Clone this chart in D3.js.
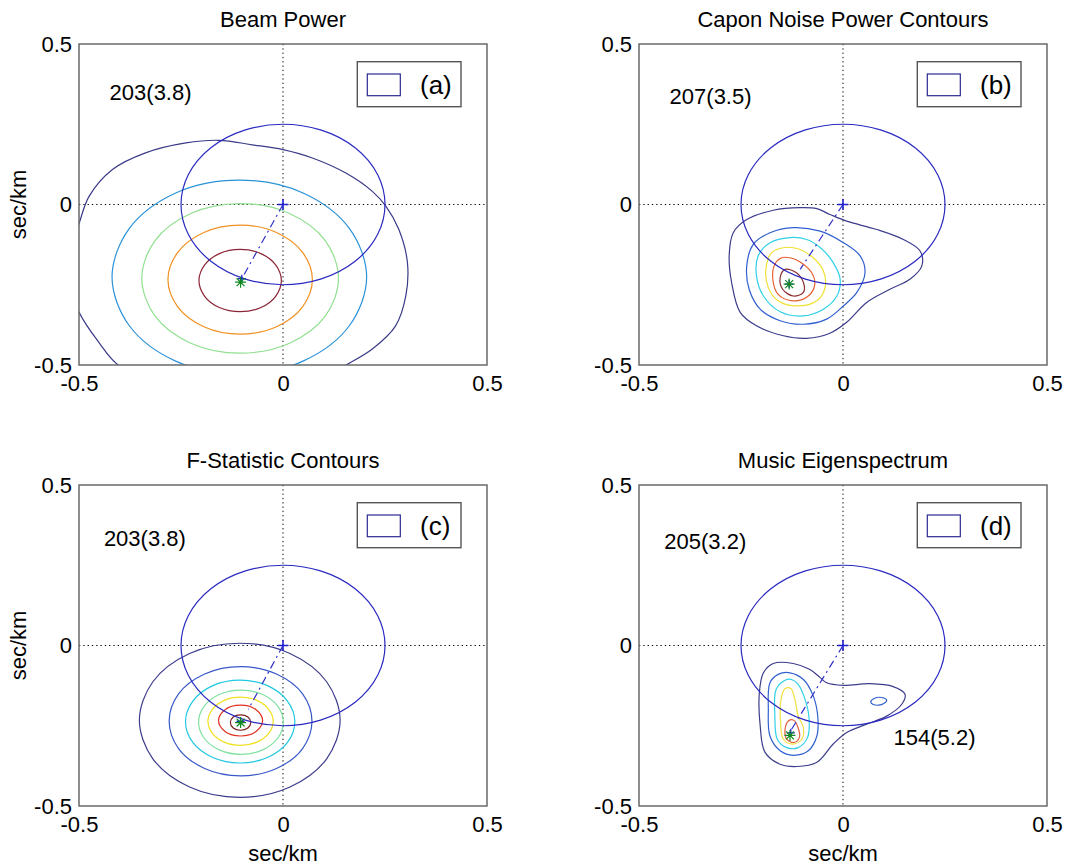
<!DOCTYPE html>
<html><head><meta charset="utf-8">
<script src="https://cdn.jsdelivr.net/npm/d3@7"></script>
<style>
body{margin:0;background:#fff}
svg{display:block}
text{font-family:"Liberation Sans",Arial,Helvetica,sans-serif;fill:#000}
</style>
</head><body><svg id="chart" width="1065" height="867"></svg>
<script>
// ---------- data ----------
const titles = ["Beam Power", "Capon Noise Power Contours", "F-Statistic Contours", "Music Eigenspectrum"];
const legendLabels = ["(a)", "(b)", "(c)", "(d)"];
const xTicks = [-0.5, 0, 0.5];
const yTicks = [-0.5, 0, 0.5];
const axisLabel = "sec/km";
const circleRadius = 0.25;                 // slowness circle around origin (sec/km)
const origin = [0, 0];
const estimates = [[-0.104, -0.242], [-0.132, -0.248], [-0.104, -0.240], [-0.130, -0.280]];
const lineEnds  = [[-0.101, -0.231], [-0.105, -0.202], [-0.085, -0.199], [-0.126, -0.261]];
const trueMarks = [[-0.101, -0.231], [-0.132, -0.248], [-0.104, -0.236], [-0.128, -0.272]];
const annotTexts = [["203(3.8)"], ["207(3.5)"], ["203(3.8)"], ["205(3.2)", "154(5.2)"]];
const annotPos   = [[[-0.425, 0.35]], [[-0.425, 0.337]], [[-0.439, 0.335]], [[-0.438, 0.325], [0.124, -0.286]]];

// contour rings, [slowness-x, slowness-y]
const contoursA = [
  [[-0.475,0.026],[-0.418,0.109],[-0.337,0.161],[-0.238,0.192],[-0.157,0.2],[-0.075,0.186],[0,0.171],[0.072,0.145],[0.154,0.098],[0.219,0.041],[0.252,-0.005],[0.284,-0.078],[0.305,-0.181],[0.301,-0.285],[0.276,-0.378],[0.219,-0.45],[0.154,-0.5],[0.08,-0.55],[-0.1,-0.6],[-0.3,-0.56],[-0.404,-0.5],[-0.451,-0.43],[-0.5,-0.335],[-0.535,-0.2],[-0.5,-0.06]],
  [[0.205,-0.226],[0.163,-0.075],[0.049,0.036],[-0.107,0.076],[-0.263,0.036],[-0.377,-0.075],[-0.419,-0.226],[-0.377,-0.377],[-0.263,-0.488],[-0.107,-0.528],[0.049,-0.488],[0.163,-0.377]],
  [[0.136,-0.23],[0.104,-0.113],[0.016,-0.028],[-0.105,0.003],[-0.226,-0.028],[-0.314,-0.113],[-0.346,-0.23],[-0.314,-0.347],[-0.226,-0.432],[-0.105,-0.463],[0.016,-0.432],[0.104,-0.347]],
  [[0.072,-0.234],[0.048,-0.149],[-0.016,-0.087],[-0.105,-0.064],[-0.194,-0.087],[-0.258,-0.149],[-0.282,-0.234],[-0.258,-0.319],[-0.194,-0.381],[-0.105,-0.404],[-0.016,-0.381],[0.048,-0.319]],
  [[-0.004,-0.237],[-0.018,-0.188],[-0.054,-0.153],[-0.105,-0.14],[-0.156,-0.153],[-0.192,-0.188],[-0.206,-0.237],[-0.192,-0.286],[-0.156,-0.321],[-0.105,-0.334],[-0.054,-0.321],[-0.018,-0.286]]
];
const contoursB = [
  [[-0.105,-0.010],[-0.171,-0.018],[-0.236,-0.047],[-0.269,-0.088],[-0.279,-0.16],[-0.273,-0.243],[-0.252,-0.336],[-0.212,-0.378],[-0.146,-0.409],[-0.089,-0.417],[-0.032,-0.401],[0.009,-0.367],[0.058,-0.305],[0.115,-0.264],[0.164,-0.233],[0.193,-0.192],[0.189,-0.145],[0.148,-0.109],[0.083,-0.078],[0.009,-0.052],[-0.032,-0.031],[-0.064,-0.013]],
  [[-0.122,-0.072],[-0.179,-0.088],[-0.22,-0.124],[-0.236,-0.192],[-0.23,-0.264],[-0.203,-0.326],[-0.154,-0.362],[-0.097,-0.373],[-0.04,-0.357],[0.001,-0.316],[0.034,-0.274],[0.054,-0.212],[0.042,-0.16],[0.001,-0.119],[-0.056,-0.083]],
  [[-0.13,-0.103],[-0.179,-0.119],[-0.208,-0.16],[-0.212,-0.223],[-0.195,-0.285],[-0.154,-0.334],[-0.097,-0.347],[-0.048,-0.326],[-0.015,-0.285],[-0.007,-0.233],[-0.024,-0.181],[-0.056,-0.134],[-0.089,-0.109]],
  [[-0.142,-0.134],[-0.175,-0.15],[-0.189,-0.202],[-0.183,-0.259],[-0.159,-0.3],[-0.113,-0.316],[-0.064,-0.3],[-0.044,-0.259],[-0.048,-0.207],[-0.073,-0.166],[-0.11,-0.138]],
  [[-0.15,-0.166],[-0.167,-0.186],[-0.172,-0.233],[-0.159,-0.28],[-0.122,-0.3],[-0.085,-0.285],[-0.069,-0.248],[-0.077,-0.212],[-0.105,-0.179],[-0.13,-0.166]],
  [[-0.142,-0.202],[-0.154,-0.228],[-0.148,-0.264],[-0.122,-0.285],[-0.097,-0.274],[-0.097,-0.243],[-0.115,-0.212]]
];
const contoursC = [
  [[0.14,-0.233],[0.107,-0.113],[0.017,-0.025],[-0.106,0.007],[-0.229,-0.025],[-0.319,-0.113],[-0.352,-0.233],[-0.319,-0.353],[-0.229,-0.441],[-0.106,-0.473],[0.017,-0.441],[0.107,-0.353]],
  [[0.071,-0.236],[0.048,-0.151],[-0.016,-0.089],[-0.104,-0.066],[-0.192,-0.089],[-0.256,-0.151],[-0.279,-0.236],[-0.256,-0.321],[-0.192,-0.383],[-0.104,-0.406],[-0.016,-0.383],[0.048,-0.321]],
  [[0.029,-0.237],[0.011,-0.173],[-0.038,-0.125],[-0.105,-0.108],[-0.172,-0.125],[-0.221,-0.173],[-0.239,-0.237],[-0.221,-0.302],[-0.172,-0.349],[-0.105,-0.366],[-0.038,-0.349],[0.011,-0.302]],
  [[0.001,-0.239],[-0.013,-0.189],[-0.051,-0.152],[-0.103,-0.139],[-0.155,-0.152],[-0.193,-0.189],[-0.207,-0.239],[-0.193,-0.289],[-0.155,-0.326],[-0.103,-0.339],[-0.051,-0.326],[-0.013,-0.289]],
  [[-0.024,-0.236],[-0.035,-0.199],[-0.064,-0.171],[-0.104,-0.161],[-0.144,-0.171],[-0.173,-0.199],[-0.184,-0.236],[-0.173,-0.274],[-0.144,-0.301],[-0.104,-0.311],[-0.064,-0.301],[-0.035,-0.274]],
  [[-0.05,-0.234],[-0.066,-0.2],[-0.104,-0.186],[-0.142,-0.2],[-0.158,-0.234],[-0.142,-0.268],[-0.104,-0.282],[-0.066,-0.268]],
  [[-0.079,-0.24],[-0.086,-0.223],[-0.104,-0.216],[-0.122,-0.223],[-0.129,-0.24],[-0.122,-0.257],[-0.104,-0.264],[-0.086,-0.257]]
];
const contoursD = [
  [[-0.171,-0.056],[-0.195,-0.085],[-0.205,-0.147],[-0.203,-0.25],[-0.191,-0.333],[-0.154,-0.37],[-0.113,-0.377],[-0.064,-0.364],[-0.024,-0.307],[0.009,-0.271],[0.058,-0.245],[0.107,-0.22],[0.144,-0.183],[0.152,-0.152],[0.123,-0.128],[0.066,-0.119],[0.001,-0.124],[-0.04,-0.116],[-0.056,-0.1],[-0.081,-0.075],[-0.122,-0.056]],
  [[0.068,-0.176],[0.076,-0.165],[0.095,-0.162],[0.107,-0.17],[0.1,-0.181],[0.087,-0.186],[0.073,-0.183]],
  [[-0.159,-0.09],[-0.179,-0.116],[-0.183,-0.199],[-0.179,-0.282],[-0.154,-0.328],[-0.122,-0.342],[-0.085,-0.328],[-0.064,-0.282],[-0.062,-0.219],[-0.073,-0.157],[-0.097,-0.106],[-0.13,-0.085]],
  [[-0.142,-0.108],[-0.164,-0.137],[-0.167,-0.219],[-0.161,-0.292],[-0.138,-0.318],[-0.11,-0.318],[-0.087,-0.287],[-0.083,-0.23],[-0.093,-0.168],[-0.11,-0.121],[-0.126,-0.106]],
  [[-0.142,-0.134],[-0.152,-0.168],[-0.153,-0.24],[-0.146,-0.292],[-0.123,-0.307],[-0.101,-0.292],[-0.097,-0.256],[-0.11,-0.219],[-0.118,-0.168],[-0.128,-0.134]],
  [[-0.134,-0.235],[-0.142,-0.261],[-0.138,-0.292],[-0.12,-0.302],[-0.107,-0.287],[-0.11,-0.256],[-0.122,-0.232]]
];

// ---------- styles ----------
const colorsA = ["#3a3a88", "#2a92d8", "#90e090", "#f09020", "#8b2535"];
const colorsB = ["#3c3c8c", "#3060d0", "#30d0e8", "#f0e030", "#e86030", "#8b3030"];
const colorsC = ["#3c3c8c", "#3858c8", "#20c8e0", "#80e0a0", "#f0e020", "#e03020", "#802020"];
const colorsD = ["#3c3c8c", "#3060d0", "#3060d0", "#30d0e8", "#f0e040", "#e06040"];

const panelContours = [contoursA, contoursB, contoursC, contoursD];
const panelColors = [colorsA, colorsB, colorsC, colorsD];
const layout = [[79, 44], [639, 44], [79, 485], [639, 485]];
const W = 408, H = 321, FS = 22;
const fmt = d => String(d);

const svg = d3.select("#chart");
const defs = svg.append("defs");

titles.forEach((title, i) => {
  const [ox, oy] = layout[i];
  const x = d3.scaleLinear().domain([xTicks[0], xTicks[2]]).range([ox, ox + W]);
  const y = d3.scaleLinear().domain([yTicks[0], yTicks[2]]).range([oy + H, oy]);
  const g = svg.append("g");

  defs.append("clipPath").attr("id", "clip" + i)
    .append("rect").attr("x", ox).attr("y", oy).attr("width", W).attr("height", H);
  const plot = g.append("g").attr("clip-path", `url(#clip${i})`);

  // zero dotted lines
  plot.append("line").attr("x1", x(0)).attr("x2", x(0)).attr("y1", oy).attr("y2", oy + H)
    .attr("stroke", "#000").attr("stroke-width", 1).attr("stroke-dasharray", "1.3,3");
  plot.append("line").attr("x1", ox).attr("x2", ox + W).attr("y1", y(0)).attr("y2", y(0))
    .attr("stroke", "#000").attr("stroke-width", 1).attr("stroke-dasharray", "1.3,3");

  // contours
  const line = d3.line().x(d => x(d[0])).y(d => y(d[1])).curve(d3.curveCatmullRomClosed.alpha(0.5));
  panelContours[i].forEach((ring, k) => {
    plot.append("path").attr("d", line(ring)).attr("fill", "none")
      .attr("stroke", panelColors[i][k]).attr("stroke-width", 1.2);
  });

  // slowness circle
  plot.append("ellipse").attr("cx", x(origin[0])).attr("cy", y(origin[1]))
    .attr("rx", x(circleRadius) - x(0)).attr("ry", y(0) - y(circleRadius))
    .attr("fill", "none").attr("stroke", "#2a2ac0").attr("stroke-width", 1.2);

  // dash-dot line from origin to estimate
  plot.append("line").attr("x1", x(origin[0])).attr("y1", y(origin[1]))
    .attr("x2", x(lineEnds[i][0])).attr("y2", y(lineEnds[i][1]))
    .attr("stroke", "#3030c8").attr("stroke-width", 1.2).attr("stroke-dasharray", "8,4,2,4");

  // markers
  const plus = (cx, cy, s, col, w) => {
    plot.append("path").attr("d", `M${cx - s},${cy}H${cx + s}M${cx},${cy - s}V${cy + s}`)
      .attr("stroke", col).attr("stroke-width", w).attr("fill", "none");
  };
  const star = (cx, cy, s, col) => {
    const d = s * 0.72;
    plot.append("path").attr("d",
      `M${cx - s},${cy}H${cx + s}M${cx},${cy - s}V${cy + s}M${cx - d},${cy - d}L${cx + d},${cy + d}M${cx - d},${cy + d}L${cx + d},${cy - d}`)
      .attr("stroke", col).attr("stroke-width", 1.2).attr("fill", "none");
  };
  plus(x(origin[0]), y(origin[1]), 5.5, "#2020d0", 1.6);
  plus(x(trueMarks[i][0]), y(trueMarks[i][1]), 4, "#2020d0", 1.3);
  star(x(estimates[i][0]), y(estimates[i][1]), 5.5, "#108a20");

  // annotations
  annotTexts[i].forEach((t, k) => {
    g.append("text").attr("x", x(annotPos[i][k][0])).attr("y", y(annotPos[i][k][1]))
      .attr("dy", "0.35em").attr("font-size", FS).text(t);
  });

  // frame
  g.append("rect").attr("x", ox).attr("y", oy).attr("width", W).attr("height", H)
    .attr("fill", "none").attr("stroke", "#6a6a6a").attr("stroke-width", 1.5);

  // axes
  const ax = g.append("g").attr("transform", `translate(0,${oy + H})`)
    .call(d3.axisBottom(x).tickValues(xTicks).tickFormat(fmt).tickSize(0).tickPadding(10));
  const ay = g.append("g").attr("transform", `translate(${ox},0)`)
    .call(d3.axisLeft(y).tickValues(yTicks).tickFormat(fmt).tickSize(0).tickPadding(7));
  [ax, ay].forEach(a => {
    a.select(".domain").remove();
    a.attr("font-size", FS).attr("font-family", '"Liberation Sans",Arial,sans-serif');
    a.selectAll("text").attr("fill", "#000");
  });

  // title
  g.append("text").attr("x", ox + W / 2).attr("y", oy - 17).attr("text-anchor", "middle")
    .attr("font-size", FS).text(title);

  // legend
  const lg = g.append("g");
  lg.append("rect").attr("x", ox + W - 129.7).attr("y", oy + 17.7).attr("width", 103.7).attr("height", 45)
    .attr("fill", "#fff").attr("stroke", "#555").attr("stroke-width", 1.4);
  lg.append("rect").attr("x", ox + W - 119.7).attr("y", oy + 30).attr("width", 33).attr("height", 21.7)
    .attr("fill", "#fff").attr("stroke", "#2a2a90").attr("stroke-width", 1.2);
  lg.append("text").attr("x", ox + W - 67).attr("y", oy + 41).attr("dy", "0.35em")
    .attr("font-size", 26).text(legendLabels[i]);

  // axis labels
  if (i % 2 === 0) {
    g.append("text").attr("transform", `translate(25.5,${oy + H / 2}) rotate(-90)`)
      .attr("text-anchor", "middle").attr("font-size", FS).text(axisLabel);
  }
  if (i >= 2) {
    g.append("text").attr("x", ox + W / 2).attr("y", oy + H + 55).attr("text-anchor", "middle")
      .attr("font-size", FS).text(axisLabel);
  }
});
</script></body></html>
